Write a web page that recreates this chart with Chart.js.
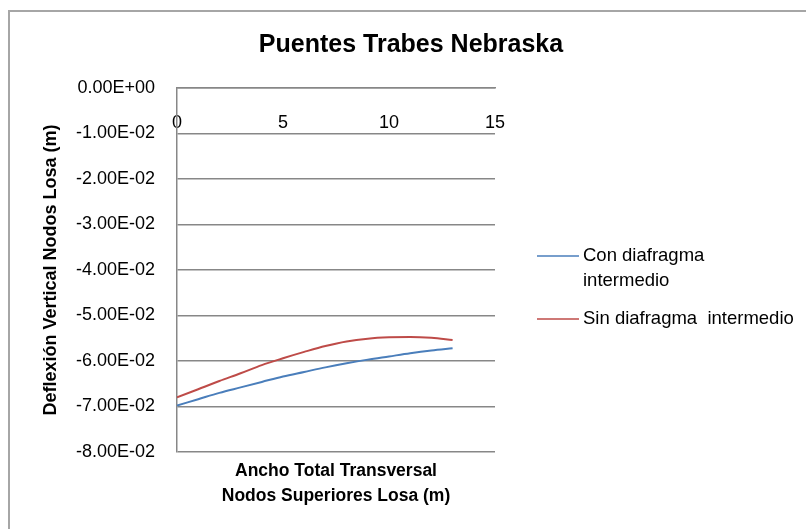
<!DOCTYPE html>
<html>
<head>
<meta charset="utf-8">
<title>Puentes Trabes Nebraska</title>
<script src="https://cdn.jsdelivr.net/npm/chart.js@4/dist/chart.umd.min.js"></script>
<style>
  html, body { margin: 0; padding: 0; background: #ffffff; }
  #wrap { width: 806px; height: 529px; position: relative; }
</style>
</head>
<body>
<div id="wrap"><canvas id="chart" width="806" height="529"></canvas></div>
<script>
// Transverse position of the slab's top nodes (m)
const nodePositions = [0, 1, 2, 3, 4, 5, 6, 7, 8, 9, 10, 11, 12, 13];

// Vertical deflection of the slab nodes (m)
const conDiafragma = [-0.0698, -0.0684, -0.0670, -0.0658, -0.0646, -0.0634, -0.0624, -0.0614, -0.0605, -0.0597, -0.0590, -0.0583, -0.0577, -0.0572];
const sinDiafragma = [-0.0680, -0.0662, -0.0644, -0.0627, -0.0609, -0.0594, -0.0580, -0.0567, -0.0557, -0.0551, -0.0548, -0.0547, -0.0549, -0.0554];

const seriesNames = [["Con diafragma", "intermedio"], ["Sin diafragma  intermedio"]];
const seriesColors = ["#4a7ebb", "#be4b48"];

const xTicks = [0, 5, 10, 15];
const yTicks = [0, -0.01, -0.02, -0.03, -0.04, -0.05, -0.06, -0.07, -0.08];

const chartTitle = "Puentes Trabes Nebraska";
const xTitle = ["Ancho Total Transversal", "Nodos Superiores Losa (m)"];
const yTitle = "Deflexión Vertical Nodos Losa (m)";

const FONT = "'Liberation Sans', Arial, sans-serif";

function toPoints(values) {
  return nodePositions.map((x, i) => ({ x: x, y: values[i] }));
}

// Excel-style scientific notation: -1.00E-02
function sci(v) {
  if (Math.abs(v) < 1e-12) return "0.00E+00";
  const parts = v.toExponential(2).split("e");
  const exp = parts[1];
  const sign = exp[0] === "-" ? "-" : "+";
  const digits = exp.replace(/^[+-]/, "").padStart(2, "0");
  return parts[0] + "E" + sign + digits;
}

// Outer frame, chart title and the right-hand legend
const decorations = {
  id: "decorations",
  beforeDraw(chart) {
    const ctx = chart.ctx;
    ctx.save();
    ctx.fillStyle = "#ffffff";
    ctx.fillRect(0, 0, chart.width, chart.height);
    ctx.strokeStyle = "#a6a6a6";
    ctx.lineWidth = 2;
    ctx.strokeRect(9, 11, 804, 560);
    ctx.restore();
  },
  afterDraw(chart) {
    const ctx = chart.ctx;
    const area = chart.chartArea;
    ctx.save();
    ctx.fillStyle = "#000000";
    ctx.textBaseline = "middle";
    ctx.textAlign = "center";
    ctx.font = "bold 25px " + FONT;
    ctx.fillText(chartTitle, 411, 45);

    ctx.font = "18.5px " + FONT;
    ctx.textAlign = "left";
    const x0 = area.right + 42;
    let y = 256;
    chart.data.datasets.forEach((ds, i) => {
      ctx.strokeStyle = ds.borderColor;
      ctx.lineWidth = 1.5;
      ctx.beginPath();
      ctx.moveTo(x0, y);
      ctx.lineTo(x0 + 42, y);
      ctx.stroke();
      const lines = seriesNames[i];
      lines.forEach((t, k) => {
        ctx.fillText(t, x0 + 46, y + k * 25);
      });
      y += (lines.length - 1) * 25 + 38;
    });
    ctx.restore();
  }
};

new Chart(document.getElementById("chart"), {
  type: "line",
  data: {
    datasets: [
      {
        label: seriesNames[0].join(" "),
        data: toPoints(conDiafragma),
        borderColor: seriesColors[0],
        backgroundColor: seriesColors[0],
        borderWidth: 2,
        pointRadius: 0,
        cubicInterpolationMode: "monotone",
        fill: false
      },
      {
        label: seriesNames[1][0],
        data: toPoints(sinDiafragma),
        borderColor: seriesColors[1],
        backgroundColor: seriesColors[1],
        borderWidth: 2,
        pointRadius: 0,
        cubicInterpolationMode: "monotone",
        fill: false
      }
    ]
  },
  options: {
    responsive: false,
    animation: false,
    layout: { padding: { left: 30, right: 311, top: 88, bottom: 20 } },
    plugins: {
      legend: { display: false },
      title: { display: false },
      tooltip: { enabled: false },
      subtitle: {
        display: true,
        position: "bottom",
        fullSize: false,
        text: xTitle,
        color: "#000000",
        font: { family: FONT, size: 17.5, weight: "bold", lineHeight: 25 / 17.5 },
        padding: { top: 7, bottom: 0 }
      }
    },
    scales: {
      x: {
        type: "linear",
        position: { y: 0 },
        min: 0,
        max: 15,
        afterBuildTicks(scale) { scale.ticks = xTicks.map(v => ({ value: v })); },
        grid: { display: false, drawTicks: false },
        border: { display: true, color: "#878787", width: 1.5 },
        ticks: {
          color: "#000000",
          font: { family: FONT, size: 18 },
          padding: 24,
          maxRotation: 0
        }
      },
      y: {
        type: "linear",
        position: "left",
        min: -0.08,
        max: 0,
        afterBuildTicks(scale) { scale.ticks = yTicks.map(v => ({ value: v })); },
        afterFit(scale) { scale.width = 147; },
        grid: { color: "#878787", lineWidth: 1.5, drawTicks: false },
        border: { display: true, color: "#878787", width: 1.5 },
        ticks: {
          color: "#000000",
          font: { family: FONT, size: 18 },
          padding: 22,
          callback: (v) => sci(v)
        },
        title: {
          display: true,
          text: yTitle,
          color: "#000000",
          font: { family: FONT, size: 18, weight: "bold" },
          padding: { top: 10, bottom: 0 }
        }
      }
    }
  },
  plugins: [decorations]
});
</script>
</body>
</html>
